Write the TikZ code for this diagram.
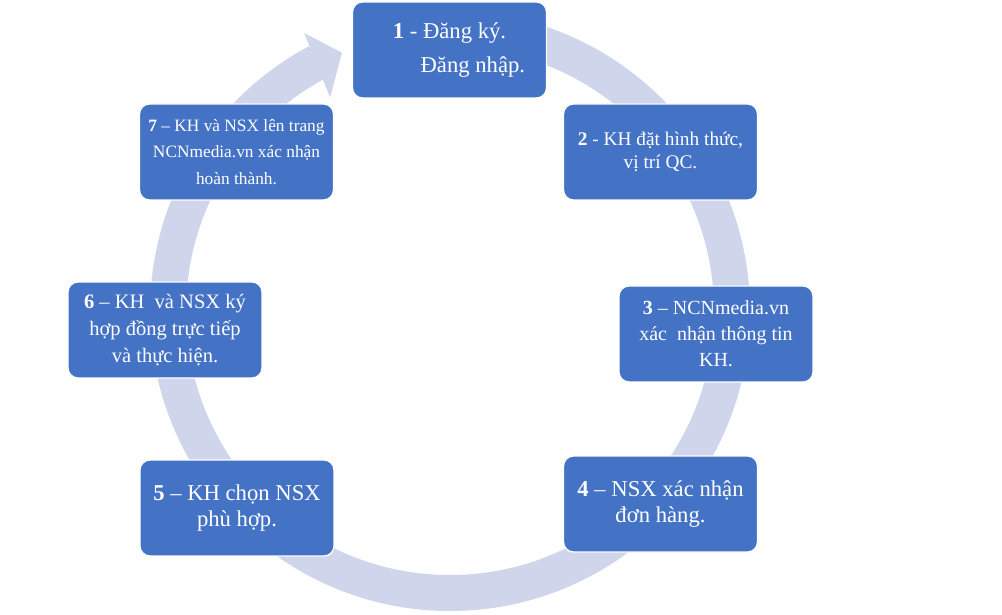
\documentclass[tikz,border=0pt]{standalone}
\usepackage{fontspec}
\setmainfont{Liberation Serif}
\definecolor{ringc}{HTML}{CFD5EA}
\definecolor{boxc}{HTML}{4472C4}
\begin{document}
\begin{tikzpicture}[x=0.75pt,y=0.75pt,
  stepbox/.style={draw=white, line width=1pt, fill=boxc, rounded corners=7.5pt,
    minimum width=145.5pt, minimum height=72pt, text=white, align=center, inner sep=0pt},
  ringline/.style={draw=ringc, line width=27pt}]
\useasboundingbox (0,0) rectangle (1002,614);
\coordinate (C) at (450,303);
% cycle ring and its arrowhead
\draw[ringline] ([shift={(C)}]90:282) arc[start angle=90, end angle=-242, radius=282];
\fill[ringc] ([shift={(C)}]117.7:314) -- ([shift={(C)}]112.7:280) -- ([shift={(C)}]119.3:245) -- cycle;
% steps
\node[stepbox, font=\fontsize{17}{25.5}\selectfont] (s1) at (449.5,564)
  {\textbf{1} - Đăng ký.\\\hspace*{35pt}Đăng nhập.};
\node[stepbox, font=\fontsize{14.5}{17.6}\selectfont] (s2) at (660.5,462)
  {\textbf{2} - KH đặt hình thức,\\vị trí QC.};
\node[stepbox, font=\fontsize{15}{19.5}\selectfont] (s3) at (716,280)
  {\textbf{3} – NCNmedia.vn\\xác\ \ nhận thông tin\\KH.};
\node[stepbox, font=\fontsize{17}{20}\selectfont] (s4) at (660.5,110)
  {\textbf{4} – NSX xác nhận\\đơn hàng.};
\node[stepbox, font=\fontsize{17}{19}\selectfont] (s5) at (237,106)
  {\textbf{5} – KH chọn NSX\\phù hợp.};
\node[stepbox, font=\fontsize{15.4}{20}\selectfont] (s6) at (165,284)
  {\textbf{6} – KH\ \ và NSX ký\\hợp đồng trực tiếp\\và thực hiện.};
\node[stepbox, font=\fontsize{13}{20}\selectfont] (s7) at (236.5,462)
  {\textbf{7} – KH và NSX lên trang\\NCNmedia.vn xác nhận\\hoàn thành.};
\end{tikzpicture}
\end{document}
